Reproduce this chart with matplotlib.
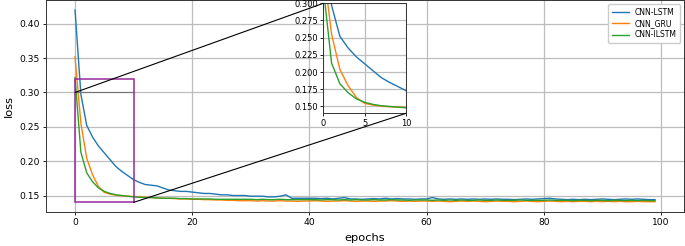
import matplotlib.pyplot as plt
from matplotlib.patches import Rectangle, ConnectionPatch

epochs = list(range(100))

cnn_lstm = [
    0.420, 0.297, 0.252, 0.235, 0.222, 0.212, 0.202, 0.192, 0.185, 0.179,
    0.173, 0.169, 0.166, 0.165, 0.164, 0.161, 0.158, 0.157, 0.156, 0.156,
    0.155, 0.154, 0.153, 0.153, 0.152, 0.151, 0.151, 0.150, 0.150, 0.150,
    0.149, 0.149, 0.149, 0.148, 0.148, 0.149, 0.151, 0.146, 0.146, 0.146,
    0.146, 0.146, 0.1455, 0.146, 0.145, 0.146, 0.147, 0.145, 0.145, 0.1445,
    0.145, 0.1455, 0.145, 0.146, 0.145, 0.1455, 0.145, 0.145, 0.1445, 0.145,
    0.145, 0.147, 0.145, 0.1445, 0.145, 0.1445, 0.145, 0.1445, 0.145, 0.1445,
    0.145, 0.1445, 0.145, 0.1445, 0.1445, 0.144, 0.1445, 0.145, 0.1445, 0.145,
    0.1455, 0.146, 0.145, 0.1445, 0.144, 0.1445, 0.144, 0.1445, 0.144, 0.1445,
    0.145, 0.1445, 0.144, 0.1445, 0.145, 0.1445, 0.145, 0.1445, 0.144, 0.144,
]

cnn_gru = [
    0.352, 0.255, 0.204, 0.180, 0.163, 0.1545, 0.152, 0.1505, 0.1495, 0.149,
    0.1485, 0.148, 0.1475, 0.147, 0.1465, 0.146, 0.146, 0.1455, 0.145, 0.145,
    0.1445, 0.1445, 0.144, 0.144, 0.1435, 0.1435, 0.143, 0.143, 0.1425, 0.1425,
    0.1425, 0.142, 0.1425, 0.142, 0.142, 0.1425, 0.142, 0.142, 0.1415, 0.142,
    0.142, 0.1425, 0.142, 0.1415, 0.142, 0.142, 0.1425, 0.142, 0.1415, 0.142,
    0.142, 0.1415, 0.142, 0.142, 0.1425, 0.142, 0.1415, 0.142, 0.1415, 0.142,
    0.142, 0.1415, 0.142, 0.1415, 0.141, 0.1415, 0.142, 0.1415, 0.142, 0.1415,
    0.141, 0.1415, 0.142, 0.1415, 0.1415, 0.141, 0.1415, 0.142, 0.1415, 0.141,
    0.1415, 0.142, 0.1415, 0.141, 0.1415, 0.141, 0.1415, 0.1415, 0.141, 0.1415,
    0.141, 0.1415, 0.141, 0.1415, 0.141, 0.141, 0.1415, 0.141, 0.141, 0.141,
]

cnn_ilstm = [
    0.322, 0.213, 0.183, 0.170, 0.161, 0.156, 0.153, 0.151, 0.150, 0.149,
    0.148, 0.1475, 0.147, 0.147, 0.1465, 0.146, 0.146, 0.146, 0.1455, 0.1455,
    0.145, 0.145, 0.145, 0.145, 0.1445, 0.1445, 0.1445, 0.1445, 0.1445, 0.1445,
    0.1445, 0.144, 0.1445, 0.144, 0.144, 0.1445, 0.144, 0.144, 0.144, 0.144,
    0.144, 0.144, 0.1435, 0.144, 0.144, 0.1435, 0.144, 0.1435, 0.144, 0.1435,
    0.1435, 0.144, 0.1435, 0.1435, 0.144, 0.1435, 0.1435, 0.143, 0.1435, 0.1435,
    0.1435, 0.143, 0.1435, 0.143, 0.1435, 0.143, 0.1435, 0.143, 0.143, 0.1435,
    0.143, 0.143, 0.1435, 0.143, 0.143, 0.143, 0.1435, 0.143, 0.143, 0.143,
    0.143, 0.1435, 0.143, 0.143, 0.143, 0.1425, 0.143, 0.143, 0.1425, 0.143,
    0.143, 0.1425, 0.143, 0.143, 0.1425, 0.143, 0.1425, 0.143, 0.1425, 0.1425,
]

series = [("CNN-LSTM", cnn_lstm), ("CNN_GRU", cnn_gru), ("CNN-ILSTM", cnn_ilstm)]

fig = plt.figure(figsize=(6.85, 2.46), dpi=100)
ax = fig.add_axes([0.0672, 0.1382, 0.9314, 0.86])

for nombre, valores in series:
    ax.plot(epochs, valores, label=nombre, linewidth=1.0)

ax.grid(True, color='#bdbdbd', linewidth=0.9)
ax.set_xlabel('epochs', fontsize=8.2, labelpad=4)
ax.set_ylabel('loss', fontsize=8.2, labelpad=4)
ax.tick_params(labelsize=6.6, length=2.5, width=0.6, pad=2)
for s in ax.spines.values():
    s.set_linewidth(0.7)
    s.set_color('#333333')
ax.legend(loc='upper right', fontsize=5.5, handlelength=2.2, borderpad=0.45,
          labelspacing=0.3, framealpha=1.0)

# rectangulo de la zona ampliada
ax.plot([0, 10], [0.30, 0.30], color='0.45', linewidth=0.8)
ax.add_patch(Rectangle((0, 0.14), 10, 0.18, fill=False, edgecolor='#952b9b', linewidth=1.1, zorder=5))

# grafico ampliado
axins = fig.add_axes([0.472, 0.5394, 0.1207, 0.4472])
for nombre, valores in series:
    axins.plot(epochs, valores, linewidth=1.0)
axins.set_xlim(0, 10)
axins.set_ylim(0.14, 0.30)
axins.set_xticks([0, 5, 10])
axins.set_yticks([0.150, 0.175, 0.200, 0.225, 0.250, 0.275, 0.300])
axins.grid(True, color='#bdbdbd', linewidth=0.9)
axins.tick_params(labelsize=6.0, length=2.5, width=0.6, pad=1.5)
for s in axins.spines.values():
    s.set_linewidth(0.7)
    s.set_color('#333333')

for xy in [(0, 0.30), (10, 0.14)]:
    con = ConnectionPatch(xyA=xy, coordsA=ax.transData, xyB=xy, coordsB=axins.transData,
                          color='black', linewidth=0.8)
    fig.add_artist(con)

fig.savefig('out.png', dpi=100)
